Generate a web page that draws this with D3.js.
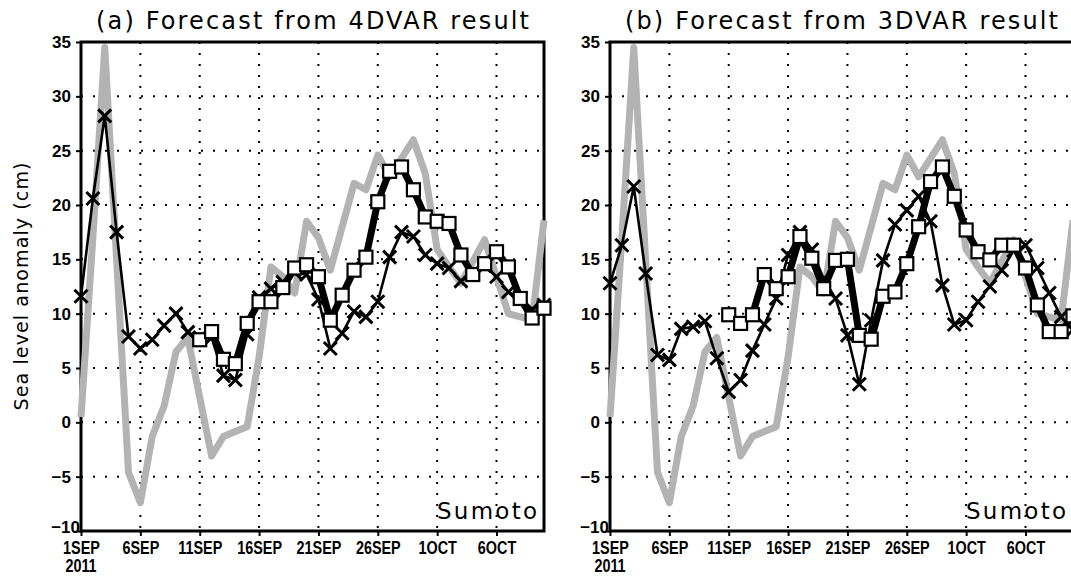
<!DOCTYPE html>
<html>
<head>
<meta charset="utf-8">
<script src="https://cdn.jsdelivr.net/npm/d3@7"></script>
<style>
body { margin: 0; background: #fff; }
svg { display: block; }
</style>
</head>
<body>
<div id="chart"></div>
<script>
// observed sea level anomaly (cm), daily from 1 SEP 2011
const observed = [0.5, 17, 34.5, 15, -4.6, -7.4, -1.3, 1.5, 6.5, 7.8,
    2.3, -3.1, -1.3, -0.85, -0.4, 6.0, 14.3, 13.4, 11.9, 18.5,
    17, 14, 18, 22, 21.4, 24.6, 22.6, 24.3, 26, 22.9,
    15.9, 14.3, 12.8, 14.8, 16.8, 13.4, 10, 9.7, 9.4, 18.6];

// panel (a): 4DVAR
const crossA = [11.6, 20.6, 28.2, 17.5, 7.9, 6.8, 7.6, 8.9, 10.0, 8.3,
    7.8, 7.8, 4.3, 3.9, 8.1, 11.5, 12.3, 12.9, 13.8, 13.6,
    11.3, 6.8, 8.2, 10.2, 9.7, 11.1, 15.2, 17.5, 17.1, 15.4,
    14.6, 14.2, 13.0, 13.6, 14.4, 13.4, 12.0, 11.4, 10.4, 10.8];
const squareA = [null, null, null, null, null, null, null, null, null, null,
    7.6, 8.35, 5.8, 5.4, 9.1, 11.1, 11.1, 12.4, 14.2, 14.5,
    13.4, 9.4, 11.7, 14.0, 15.2, 20.3, 23.1, 23.5, 21.4, 18.9,
    18.5, 18.3, 15.4, 13.6, 14.6, 15.7, 14.3, 11.4, 9.6, 10.5];

// panel (b): 3DVAR
const crossB = [12.8, 16.3, 21.7, 13.7, 6.2, 5.75, 8.6, 8.8, 9.3, 5.9,
    2.8, 3.9, 6.6, 9.0, 11.4, 15.4, 17.5, 15.9, 13.2, 11.4,
    8.0, 3.5, 9.4, 14.9, 18.2, 19.5, 20.8, 18.5, 12.6, 9.0,
    9.4, 11.1, 12.5, 14.0, 15.8, 16.3, 14.2, 11.9, 9.7, 8.5];
const squareB = [null, null, null, null, null, null, null, null, null, null,
    9.9, 9.1, 9.9, 13.6, 12.3, 13.4, 17.1, 15.1, 12.3, 14.9,
    15.0, 8.0, 7.65, 11.6, 12.0, 14.6, 18.0, 22.15, 23.5, 20.8,
    17.7, 15.7, 14.95, 16.3, 16.3, 14.2, 10.8, 8.35, 8.35, 9.8];

const xTickDays = [0, 5, 10, 15, 20, 25, 30, 35];
const xTickLabels = ['1SEP', '6SEP', '11SEP', '16SEP', '21SEP', '26SEP', '1OCT', '6OCT'];
const yTicks = [-10, -5, 0, 5, 10, 15, 20, 25, 30, 35];
const yGrid = [-5, 0, 5, 10, 15, 20, 25, 30];

const W = 1071, H = 576;
const plotTop = 42, plotBottom = 531, plotW = 463;
const grayColor = '#b3b3b3';
const boldFont = '"Liberation Sans", Arial, sans-serif';

const svg = d3.select('#chart').append('svg')
    .attr('width', W)
    .attr('height', H);

const y = d3.scaleLinear().domain([-10, 35]).range([plotBottom, plotTop]);

// squeeze bold labels horizontally, like the condensed plot font
function condense(sel, k) {
    sel.each(function () {
        const len = this.getComputedTextLength();
        d3.select(this).attr('textLength', len * k).attr('lengthAdjust', 'spacingAndGlyphs');
    });
}

function drawPanel(left, title, cross, square, showYLabel) {
    const x = d3.scaleLinear().domain([0, 39]).range([left, left + plotW]);
    const g = svg.append('g');

    // dotted grid
    g.selectAll('.hgrid').data(yGrid).enter().append('line')
        .attr('x1', left).attr('x2', left + plotW)
        .attr('y1', d => y(d)).attr('y2', d => y(d))
        .attr('stroke', '#000').attr('stroke-width', 2)
        .attr('stroke-dasharray', '2,10');
    g.selectAll('.vgrid').data(xTickDays.slice(1)).enter().append('line')
        .attr('x1', d => x(d)).attr('x2', d => x(d))
        .attr('y1', plotTop).attr('y2', plotBottom)
        .attr('stroke', '#000').attr('stroke-width', 2)
        .attr('stroke-dasharray', '2,9');

    // frame
    g.append('rect')
        .attr('x', left).attr('y', plotTop)
        .attr('width', plotW).attr('height', plotBottom - plotTop)
        .attr('fill', 'none').attr('stroke', '#000').attr('stroke-width', 3);

    // axes
    const yAxis = g.append('g')
        .attr('transform', `translate(${left},0)`)
        .call(d3.axisLeft(y).tickValues(yTicks).tickSize(5).tickPadding(5));
    const xAxis = g.append('g')
        .attr('transform', `translate(0,${plotBottom})`)
        .call(d3.axisBottom(x).tickValues(xTickDays).tickFormat((d, i) => xTickLabels[i]).tickSize(5).tickPadding(5));
    [yAxis, xAxis].forEach(a => {
        a.select('.domain').remove();
        a.selectAll('.tick line').attr('stroke-width', 2);
    });
    yAxis.selectAll('text')
        .style('font-family', boldFont)
        .style('font-weight', 'bold').style('font-size', '17px');
    yAxis.selectAll('.tick').filter(d => d === -10).select('text')
        .attr('x', -1).attr('dy', '0.1em');
    xAxis.selectAll('text')
        .style('font-family', boldFont)
        .style('font-weight', 'bold').style('font-size', '18px')
        .call(condense, 0.8);
    g.append('text')
        .attr('x', x(0)).attr('y', 572)
        .attr('text-anchor', 'middle')
        .style('font-family', boldFont)
        .style('font-weight', 'bold').style('font-size', '18px')
        .text('2011')
        .call(condense, 0.8);

    // observation
    const line = d3.line().defined(d => d !== null).x((d, i) => x(i)).y(d => y(d));
    g.append('path').datum(observed)
        .attr('d', line)
        .attr('fill', 'none').attr('stroke', grayColor)
        .attr('stroke-width', 7).attr('stroke-linejoin', 'round');

    // cross series
    g.append('path').datum(cross)
        .attr('d', line)
        .attr('fill', 'none').attr('stroke', '#000')
        .attr('stroke-width', 2.6);
    g.selectAll('.cross').data(cross).enter().append('path')
        .attr('transform', (d, i) => `translate(${x(i)},${y(d)})`)
        .attr('d', 'M-6.5,-6.5L6.5,6.5M-6.5,6.5L6.5,-6.5')
        .attr('stroke', '#000').attr('stroke-width', 3).attr('fill', 'none');

    // square series
    g.append('path').datum(square)
        .attr('d', line)
        .attr('fill', 'none').attr('stroke', '#000')
        .attr('stroke-width', 7).attr('stroke-linejoin', 'round');
    g.selectAll('.sq').data(square.map((d, i) => [i, d]).filter(d => d[1] !== null)).enter().append('rect')
        .attr('x', d => x(d[0]) - 6.5).attr('y', d => y(d[1]) - 6.5)
        .attr('width', 13).attr('height', 13)
        .attr('fill', '#fff').attr('stroke', '#000').attr('stroke-width', 2.2);

    // title
    g.append('text')
        .attr('x', left + plotW / 2).attr('y', 29)
        .attr('text-anchor', 'middle')
        .attr('textLength', 433).attr('lengthAdjust', 'spacing')
        .style('font-family', '"DejaVu Sans", sans-serif').style('font-size', '24px')
        .text(title);

    g.append('text')
        .attr('x', left + plotW - 107).attr('y', 519)
        .attr('textLength', 100).attr('lengthAdjust', 'spacing')
        .style('font-family', '"DejaVu Sans", sans-serif').style('font-size', '23px')
        .text('Sumoto');

    if (showYLabel) {
        g.append('text')
            .attr('transform', `translate(28,${(plotTop + plotBottom) / 2}) rotate(-90)`)
            .attr('text-anchor', 'middle')
            .attr('textLength', 248).attr('lengthAdjust', 'spacing')
            .style('font-family', '"DejaVu Sans", sans-serif').style('font-size', '19px')
            .text('Sea level anomaly (cm)');
    }
}

drawPanel(81, '(a) Forecast from 4DVAR result', crossA, squareA, true);
drawPanel(610, '(b) Forecast from 3DVAR result', crossB, squareB, false);
</script>
</body>
</html>
